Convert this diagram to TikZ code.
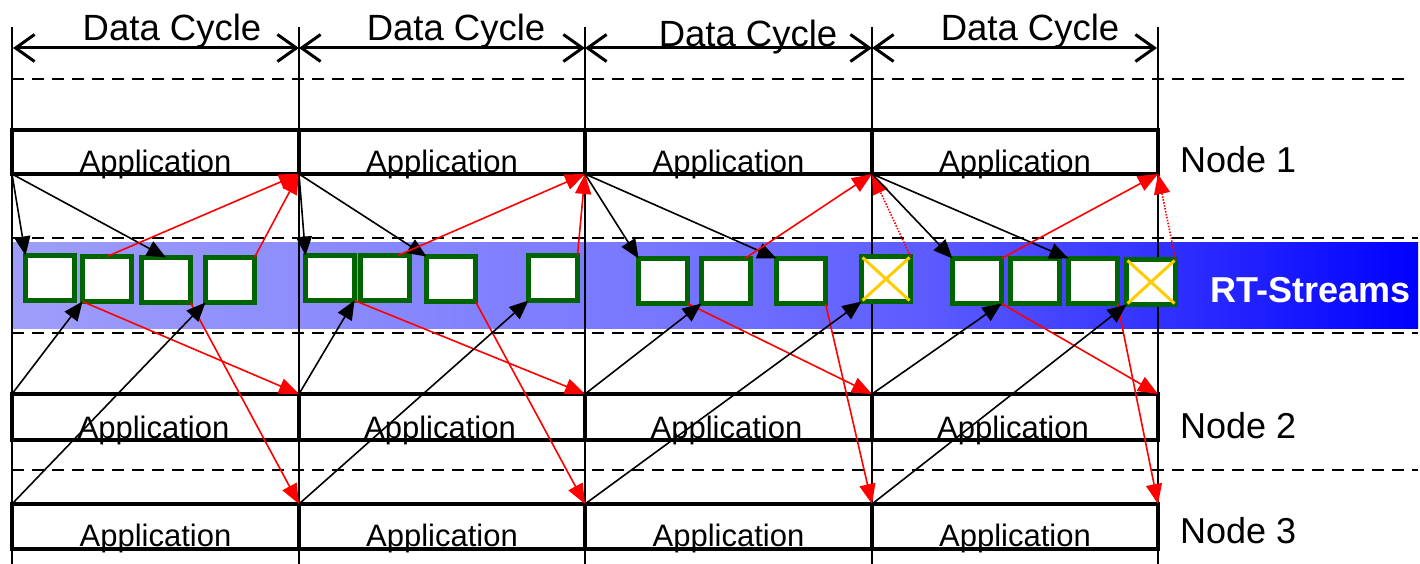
\documentclass[tikz,border=0pt]{standalone}
\usepackage{fontspec}
\setmainfont{Liberation Sans}
\usetikzlibrary{arrows.meta}

\definecolor{boxgreen}{RGB}{0,100,0}
\definecolor{crossyellow}{RGB}{255,204,0}
\definecolor{msgred}{RGB}{255,0,0}

% light blue on the left running into full blue on the right
\pgfdeclarehorizontalshading{streamshade}{100bp}{%
  rgb(0bp)=(0.62,0.62,0.98); rgb(25bp)=(0.62,0.62,0.98);
  rgb(47.5bp)=(0.47,0.47,1); rgb(57.5bp)=(0.36,0.36,1);
  rgb(67.5bp)=(0.16,0.16,1); rgb(75bp)=(0,0,1); rgb(100bp)=(0,0,1)}

\begin{document}
\begin{tikzpicture}[x=1pt,y=-1pt,
  appbox/.style={draw, line width=4.5pt, minimum width=#1, inner sep=0pt, outer sep=0pt},
  rowa/.style={minimum height=44pt},
  rowb/.style={minimum height=46pt},
  rowc/.style={minimum height=45pt},
  apptext/.style={anchor=base, inner sep=0pt, font=\fontsize{31}{34}\selectfont},
  cycletext/.style={anchor=base, inner sep=0pt, font=\fontsize{36.5}{40}\selectfont},
  nodetext/.style={anchor=base west, inner sep=0pt, font=\fontsize{36}{40}\selectfont},
  slot/.style={draw=boxgreen, fill=white, line width=5pt, minimum width=49pt,
    minimum height=45pt, inner sep=0pt, outer sep=0pt},
  lost/.style={crossyellow, line width=3pt},
  sep/.style={dash pattern=on 12pt off 8pt, line width=2.5pt},
  cycleline/.style={line width=2.8pt},
  span/.style={line width=3pt, {Straight Barb[length=19pt,width=27pt,line width=3pt]}-{Straight Barb[length=19pt,width=27pt,line width=3pt]}},
  wr/.style={line width=1.6pt, -{Triangle[length=19pt,width=16pt]}},
  rd/.style={msgred, line width=1.6pt, -{Triangle[length=20pt,width=16pt]}},
  rddot/.style={rd, dash pattern=on 1.5pt off 1.5pt}]

\useasboundingbox (0,0) rectangle (1420,564);

% real-time stream band
\shade[shading=streamshade] (12,242) rectangle (1418,328);

% separators
\draw[sep] (12,79) -- (1406,79);
\draw[sep] (12,238) -- (1418,238);
\draw[sep] (12,333) -- (1418,333);
\draw[sep] (12,470) -- (1418,470);

% cycle boundaries
\foreach \x in {12,299,585,872,1158}
  \draw[cycleline] (\x,27) -- (\x,564);

% cycle spans
\coordinate (s0) at (13,48);
\coordinate (s1) at (299,48);
\coordinate (s2) at (585,48);
\coordinate (s3) at (872,48);
\coordinate (s4) at (1157,48);
\draw[span] (s0) -- (s1);
\draw[span] (s1) -- (s2);
\draw[span] (s2) -- (s3);
\draw[span] (s3) -- (s4);
\node[cycletext] (dc1) at (172,41) {Data Cycle};
\node[cycletext] (dc2) at (456,41) {Data Cycle};
\node[cycletext] (dc3) at (748,47) {Data Cycle};
\node[cycletext] (dc4) at (1030,41) {Data Cycle};

% application labels
\foreach \cx [count=\i] in {155.5,442,728.5,1015} {
  \node[apptext] (ta\i) at (\cx,173) {Application};
  \node[apptext] (tb\i) at (\cx-2,438) {Application};
  \node[apptext] (tc\i) at (\cx,546) {Application};
}

% application cells
\node[appbox=287pt, rowa] (n1c1) at (155.5,152) {};
\node[appbox=286pt, rowa] (n1c2) at (442,152) {};
\node[appbox=287pt, rowa] (n1c3) at (728.5,152) {};
\node[appbox=286pt, rowa] (n1c4) at (1015,152) {};
\node[appbox=287pt, rowb] (n2c1) at (155.5,417) {};
\node[appbox=286pt, rowb] (n2c2) at (442,417) {};
\node[appbox=287pt, rowb] (n2c3) at (728.5,417) {};
\node[appbox=286pt, rowb] (n2c4) at (1015,417) {};
\node[appbox=287pt, rowc] (n3c1) at (155.5,526.5) {};
\node[appbox=286pt, rowc] (n3c2) at (442,526.5) {};
\node[appbox=287pt, rowc] (n3c3) at (728.5,526.5) {};
\node[appbox=286pt, rowc] (n3c4) at (1015,526.5) {};

% node names
\node[nodetext] (lab1) at (1180,172) {Node 1};
\node[nodetext] (lab2) at (1180,438) {Node 2};
\node[nodetext] (lab3) at (1180,543) {Node 3};
\node[nodetext, text=white, font=\fontsize{36}{40}\selectfont\bfseries] (lab4) at (1210,302) {RT-Streams};

% stream slots
\node[slot] (a1) at (50,278) {};
\node[slot] (a2) at (107,279) {};
\node[slot] (a3) at (166,280) {};
\node[slot] (a4) at (230,280) {};
\node[slot] (b1) at (330,278) {};
\node[slot] (b2) at (385,278) {};
\node[slot] (b3) at (451,279) {};
\node[slot] (b4) at (553,278) {};
\node[slot] (c1) at (663,281) {};
\node[slot] (c2) at (726,281) {};
\node[slot] (c3) at (801,281) {};
\node[slot] (c4) at (886,279) {};
\node[slot] (d1) at (977,281) {};
\node[slot] (d2) at (1035,281) {};
\node[slot] (d3) at (1093,281) {};
\node[slot] (d4) at (1151,282) {};

% lost slots
\foreach \s in {c4,d4} {
  \draw[lost] ([shift={(1,1)}]\s.north west) -- ([shift={(-1,-1)}]\s.south east);
  \draw[lost] ([shift={(-1,1)}]\s.north east) -- ([shift={(1,-1)}]\s.south west);
}

% cycle 1
\draw[wr] (n1c1.south west) -- (a1.north west);
\draw[wr] (n1c1.south west) -- (a3.north);
\draw[rd] (a2.north) -- (n1c1.south east);
\draw[rd] (a4.north east) -- (n1c1.south east);
\draw[rd] (a2.south west) -- (n2c1.north east);
\draw[rd] (a3.south east) -- (n3c1.north east);
\draw[wr] (n2c1.north west) -- (a2.south west);
\draw[wr] (n3c1.north west) -- (a4.south west);

% cycle 2
\draw[wr] (n1c2.south west) -- (b1.north west);
\draw[wr] (n1c2.south west) -- (b3.north west);
\draw[rd] (b2.60) -- (n1c2.south east);
\draw[rd] (b4.north east) -- (n1c2.south east);
\draw[rd] (b1.south east) -- (n2c2.north east);
\draw[rd] (b3.south east) -- (n3c2.north east);
\draw[wr] (n2c2.north west) -- (b1.south east);
\draw[wr] (n3c2.north west) -- (b4.south west);

% cycle 3
\draw[wr] (n1c3.south west) -- (c1.north west);
\draw[wr] (n1c3.south west) -- (c3.north west);
\draw[rd] (c2.50) -- (n1c3.south east);
\draw[rddot] (c4.north east) -- (n1c3.south east);
\draw[rd] (c1.south east) -- (n2c3.north east);
\draw[rd] (c3.south east) -- (n3c3.north east);
\draw[wr] (n2c3.north west) -- (c2.south west);
\draw[wr] (n3c3.north west) -- (c4.south west);

% cycle 4
\draw[wr] (n1c4.south west) -- (d1.north west);
\draw[wr] (n1c4.south west) -- (d3.north west);
\draw[rd] (d1.north east) -- (n1c4.south east);
\draw[rddot] (d4.north east) -- (n1c4.south east);
\draw[rd] (d1.south east) -- (n2c4.north east);
\draw[rd] (d3.south east) -- (n3c4.north east);
\draw[wr] (n2c4.north west) -- (d1.south east);
\draw[wr] (n3c4.north west) -- (d4.south west);

\end{tikzpicture}
\end{document}
